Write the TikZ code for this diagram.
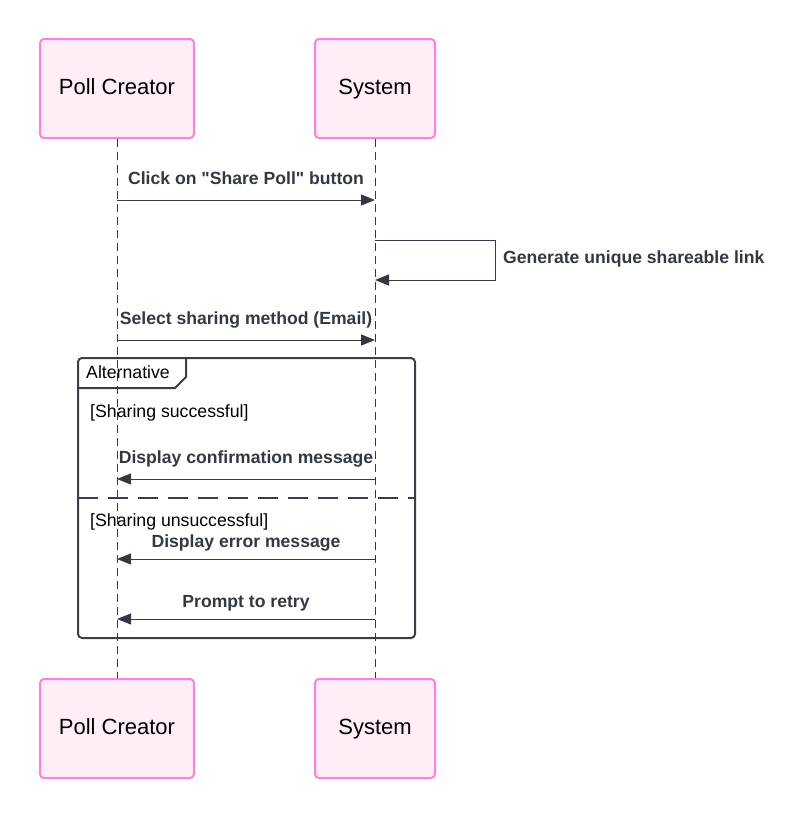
\documentclass[tikz,border=0pt]{standalone}
\usepackage{fontspec}
\defaultfontfeatures[\rmfamily,\sffamily]{}
\setmainfont{Liberation Sans}
\newfontfamily\lib{Liberation Sans}
\usetikzlibrary{arrows.meta}
\definecolor{boxfill}{HTML}{FFEEF8}
\definecolor{boxline}{HTML}{FF7FDF}
\definecolor{ink}{HTML}{333842}
\definecolor{frameink}{HTML}{3A3E46}
\begin{document}
\begin{tikzpicture}[x=1pt,y=-1pt,
  actor/.style={draw=boxline,fill=boxfill,line width=2pt,rounded corners=4pt,
    minimum width=#1,minimum height=99pt,inner sep=0pt,text height=16pt,text depth=4.5pt,
    font=\lib\fontsize{22}{26}\selectfont,text=black},
  lifeline/.style={draw=ink,line width=0.9pt,dash pattern=on 8pt off 5pt},
  msg/.style={draw=ink,line width=1pt,-{Triangle[length=14pt,width=11pt]}},
  msglabel/.style={font=\lib\fontsize{17.6}{21}\selectfont\bfseries,text=ink,inner sep=0pt,
    text height=13pt,text depth=3.5pt},
  guard/.style={font=\lib\fontsize{17.7}{21}\selectfont,text=black,inner sep=0pt,anchor=west,
    text height=13pt,text depth=3.5pt},
  frame/.style={draw=frameink,line width=2pt}]
\useasboundingbox (0,0) rectangle (807,820);
% actors
\node[actor=154pt] (pcT) at (117,88.5) {Poll Creator};
\node[actor=120pt] (sysT) at (375,88.5) {System};
\node[actor=154pt] (pcB) at (117,728.5) {Poll Creator};
\node[actor=120pt] (sysB) at (375,728.5) {System};
% lifelines
\draw[lifeline] (pcT.south) -- (pcB.north);
\draw[lifeline] (sysT.south) -- (sysB.north);
% coordinates on lifelines
\coordinate (p1) at (117,200); \coordinate (s1) at (375,200);
\coordinate (s2a) at (375,240); \coordinate (s2b) at (375,280);
\coordinate (p3) at (117,340); \coordinate (s3) at (375,340);
\coordinate (p4) at (117,479); \coordinate (s4) at (375,479);
\coordinate (p5) at (117,559); \coordinate (s5) at (375,559);
\coordinate (p6) at (117,619); \coordinate (s6) at (375,619);
% messages
\draw[msg] (p1) -- (s1);
\node[msglabel] (l1) at (246,180) {Click on "Share Poll" button};
\draw[msg] (s2a) -- (495,240) -- (495,280) -- (s2b);
\node[msglabel,anchor=west] (l2) at (503,259) {Generate unique shareable link};
\draw[msg] (p3) -- (s3);
\node[msglabel] (l3) at (246,320) {Select sharing method (Email)};
% alt frame
\draw[frame,rounded corners=4pt] (78,358) rectangle (415,638);
\draw[frame] (78,388) -- (175,388) -- (186,377) -- (186,358);
\node[guard] (alt) at (86,374) {Alternative};
\node[guard] (g1) at (90,413) {[Sharing successful]};
\draw[frame,dash pattern=on 20pt off 10pt] (78,498) -- (415,498);
\node[guard] (g2) at (90,522) {[Sharing unsuccessful]};
\draw[msg] (s4) -- (p4);
\node[msglabel] (l4) at (246,459) {Display confirmation message};
\draw[msg] (s5) -- (p5);
\node[msglabel] (l5) at (246,543) {Display error message};
\draw[msg] (s6) -- (p6);
\node[msglabel] (l6) at (246,603) {Prompt to retry};
\end{tikzpicture}
\end{document}
